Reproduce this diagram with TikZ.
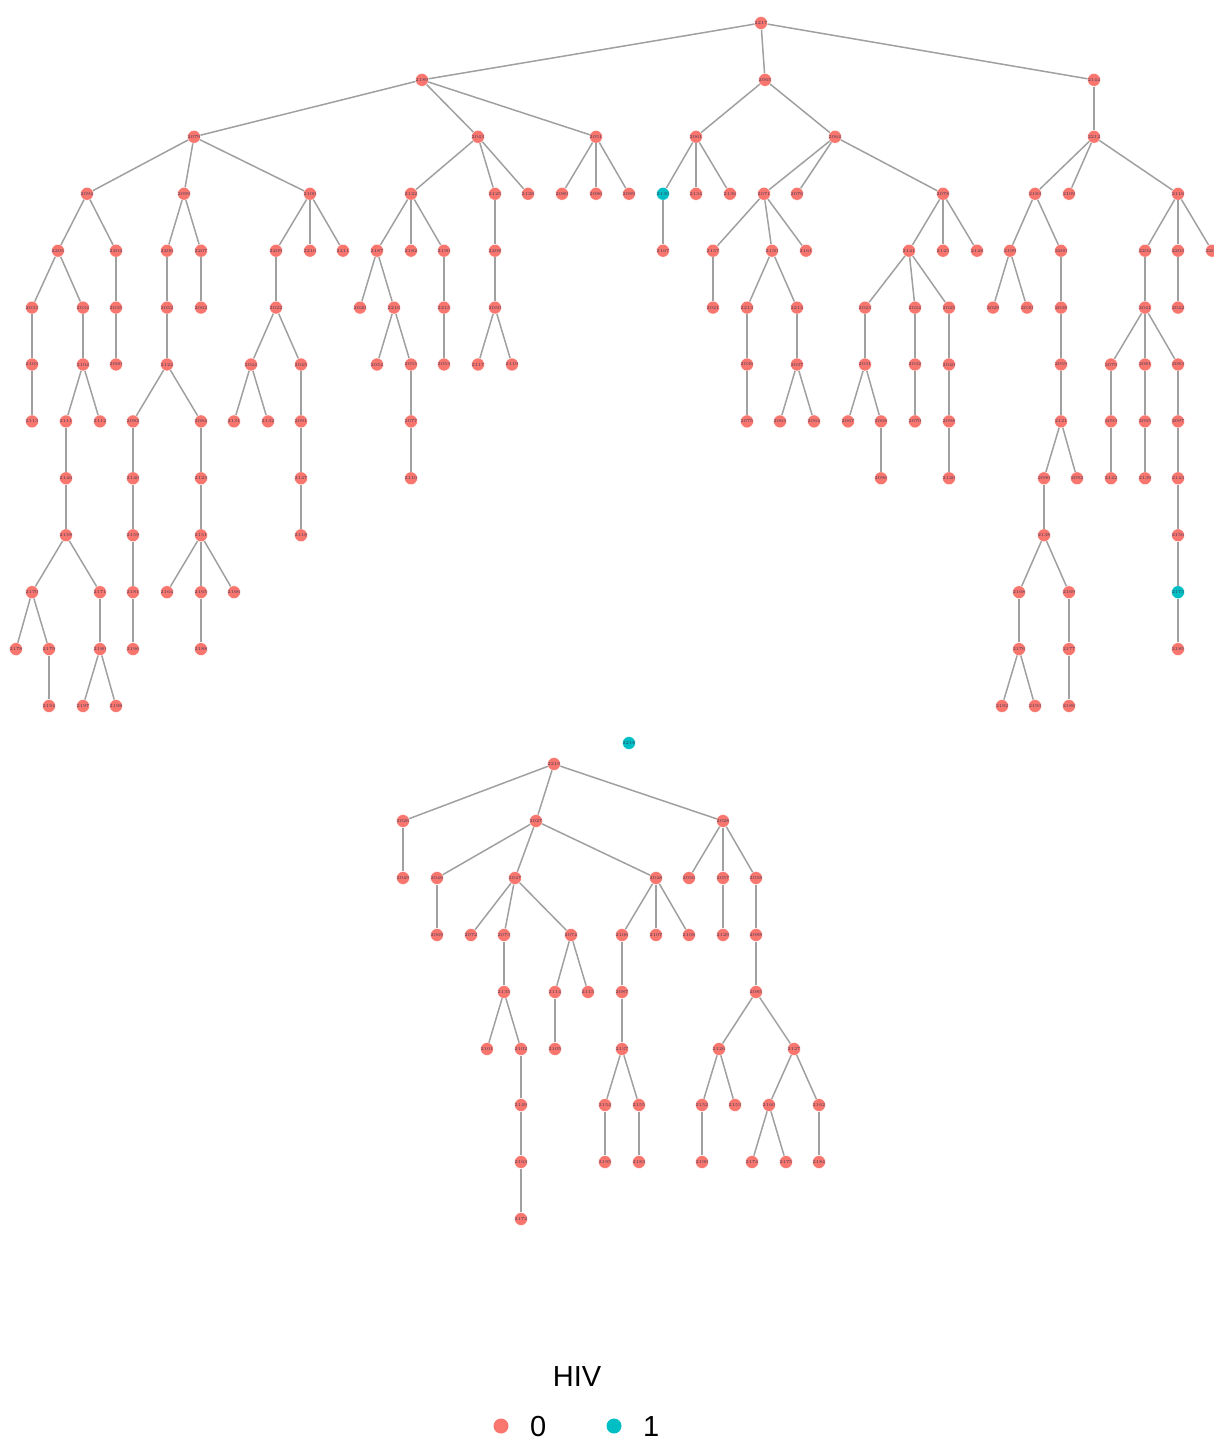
\documentclass[tikz,border=0pt]{standalone}
\usepackage{fontspec}
\newfontfamily\legfont{Liberation Sans}
\definecolor{hvred}{HTML}{F8766D}
\definecolor{hvteal}{HTML}{00BFC4}
\definecolor{edgegray}{HTML}{A0A0A0}
\definecolor{lblcol}{HTML}{3A3A5E}
\begin{document}
\begin{tikzpicture}[x=1pt,y=-1pt,
  hv/.style={circle,fill=hvred,draw=white,line width=0.4pt,minimum size=12.5pt,inner sep=0pt,
    font=\fontsize{4.6}{5}\selectfont,text=lblcol},
  hvt/.style={hv,fill=hvteal},
  edge/.style={draw=edgegray,line width=1.5pt},
  legtext/.style={font=\legfont\fontsize{29}{32}\selectfont,inner sep=0pt}]
\useasboundingbox (0,0) rectangle (1213,1439);
% ---- top tree ----
\def\La{23}\def\Lb{79.9}\def\Lc{136.8}\def\Ld{193.8}\def\Le{250.7}\def\Lf{307.6}\def\Lg{364.5}
\def\Lh{421.4}\def\Li{478.3}\def\Lj{535.3}\def\Lk{592.2}\def\Ll{649.1}\def\Lm{706}
\node[hv] (n2217) at (761,\La) {2217};
\foreach \n/\x in {2189/422,2065/765,2144/1094} \node[hv] (n\n) at (\x,\Lb) {\n};
\foreach \n/\x in {2079/194,2043/478,2051/596,2061/696,2064/835,2212/1094} \node[hv] (n\n) at (\x,\Lc) {\n};
\foreach \n/\x in {2094/87,2099/184,2100/310,2122/411,2125/495,2128/528,2080/562,2086/596,2089/629,2134/696,2136/730,2071/764,2076/797,2078/943,2183/1035,2109/1069,2116/1178} \node[hv] (n\n) at (\x,\Ld) {\n};
\node[hvt] (n2130) at (663,\Ld) {2130};
\foreach \n/\x in {2205/58,2204/116,2206/167,2207/201,2209/276,2210/310,2211/343,2187/377,2182/411,2190/444,2208/495,2167/663,2157/713,2150/772,2161/806,2141/909,2145/943,2148/977,2199/1010,2200/1061,2202/1145,2203/1178,2201/1212} \node[hv] (n\n) at (\x,\Le) {\n};
\foreach \n/\x in {2033/32,2034/83,2035/116,2052/167,2062/201,2022/276,2020/360,2216/394,2215/444,2050/495,2021/713,2213/747,2214/797,2023/865,2024/915,2025/949,2029/993,2030/1027,2038/1061,2041/1145,2042/1178} \node[hv] (n\n) at (\x,\Lf) {\n};
\foreach \n/\x in {2103/32,2104/83,2060/116,2124/167,2044/251,2045/301,2054/377,2055/411,2053/444,2117/478,2119/512,2036/747,2037/797,2031/865,2032/915,2040/949,2059/1061,2081/1145,2083/1178} \node[hv] (n\n) at (\x,\Lg) {\n};
\node[hv] (n2079b) at (1111,\Lg) {2079};
\foreach \n/\x in {2113/32,2111/66,2112/100,2082/133,2084/201,2131/234,2132/268,2091/301,2077/411,2075/747,2063/780,2067/848,2068/881,2070/915,2098/949,2121/1061,2093/1111,2095/1145,2097/1178} \node[hv] (n\n) at (\x,\Lh) {\n};
\node[hv] (n2064b) at (814,\Lh) {2064};
\foreach \n/\x in {2146/66,2140/133,2123/201,2147/301,2110/411,2096/881,2120/949,2090/1044,2092/1077,2142/1111,2139/1145,2143/1178} \node[hv] (n\n) at (\x,\Li) {\n};
\foreach \n/\x in {2158/66,2159/133,2151/201,2118/301,2138/1044,2156/1178} \node[hv] (n\n) at (\x,\Lj) {\n};
\foreach \n/\x in {2170/32,2171/100,2181/133,2164/167,2165/201,2166/234,2168/1019,2169/1069} \node[hv] (n\n) at (\x,\Lk) {\n};
\node[hvt] (n2173) at (1178,\Lk) {2173};
\foreach \n/\x in {2178/16,2179/49,2180/100,2196/133,2188/201,2176/1019,2177/1069,2185/1178} \node[hv] (n\n) at (\x,\Ll) {\n};
\foreach \n/\x in {2194/49,2197/83,2198/116,2192/1002,2193/1035,2186/1069} \node[hv] (n\n) at (\x,\Lm) {\n};
% ---- bottom tree ----
\node[hvt] (n2218) at (629,743) {2218};
\node[hv] (n2219) at (554,764) {2219};
\foreach \n/\x in {2026/403,2027/536,2028/723} \node[hv] (n\n) at (\x,821) {\n};
\foreach \n/\x in {2049/403,2046/437,2047/515,2048/656,2056/689,2057/723,2058/756} \node[hv] (n\n) at (\x,878) {\n};
\foreach \n/\x in {2069/437,2072/471,2073/504,2074/571,2106/622,2107/656,2108/689,2129/723,2088/756} \node[hv] (n\n) at (\x,935) {\n};
\foreach \n/\x in {2135/504,2114/555,2115/588,2087/622,2085/756} \node[hv] (n\n) at (\x,992) {\n};
\foreach \n/\x in {2101/487,2102/521,2105/555,2137/622,2126/719,2127/794} \node[hv] (n\n) at (\x,1049) {\n};
\foreach \n/\x in {2149/521,2154/605,2155/639,2152/702,2153/735,2160/769,2162/819} \node[hv] (n\n) at (\x,1105) {\n};
\foreach \n/\x in {2163/521,2195/605,2174/752,2175/786,2184/819} \node[hv] (n\n) at (\x,1162) {\n};
\node[hv] (n2183b) at (639,1162) {2183};
\node[hv] (n2190b) at (702,1162) {2190};
\node[hv] (n2172) at (521,1219) {2172};
% ---- edges ----
\foreach \a/\b in {2217/2189,2217/2065,2217/2144,
 2189/2079,2189/2043,2189/2051,
 2079/2094,2079/2099,2079/2100,
 2094/2205,2094/2204,2205/2033,2205/2034,2204/2035,
 2033/2103,2103/2113,2034/2104,2104/2111,2104/2112,
 2111/2146,2146/2158,2158/2170,2158/2171,2170/2178,2170/2179,2179/2194,
 2171/2180,2180/2197,2180/2198,2035/2060,
 2099/2206,2099/2207,2206/2052,2052/2124,2124/2082,2124/2084,
 2082/2140,2140/2159,2159/2181,2181/2196,
 2084/2123,2123/2151,2151/2164,2151/2165,2151/2166,2165/2188,2207/2062,
 2100/2209,2100/2210,2100/2211,2209/2022,2022/2044,2022/2045,2044/2131,2044/2132,
 2045/2091,2091/2147,2147/2118,
 2043/2122,2043/2125,2043/2128,2122/2187,2122/2182,2122/2190,
 2187/2020,2187/2216,2216/2054,2216/2055,2055/2077,2077/2110,2190/2215,2215/2053,
 2125/2208,2208/2050,2050/2117,2050/2119,
 2051/2080,2051/2086,2051/2089,
 2065/2061,2065/2064,2061/2130,2061/2134,2061/2136,2130/2167,
 2064/2071,2064/2076,2064/2078,2071/2157,2071/2150,2071/2161,2157/2021,
 2150/2213,2150/2214,2213/2036,2036/2075,2214/2037,2037/2063,2037/2064b,
 2078/2141,2078/2145,2078/2148,2141/2023,2141/2024,2141/2025,
 2023/2031,2031/2067,2031/2068,2068/2096,2024/2032,2032/2070,2025/2040,2040/2098,2098/2120,
 2144/2212,2212/2183,2212/2109,2212/2116,2183/2199,2183/2200,2199/2029,2199/2030,
 2200/2038,2038/2059,2059/2121,2121/2090,2121/2092,2090/2138,2138/2168,2138/2169,
 2168/2176,2176/2192,2176/2193,2169/2177,2177/2186,
 2116/2202,2116/2203,2116/2201,2202/2041,2041/2079b,2041/2081,2041/2083,
 2079b/2093,2093/2142,2081/2095,2095/2139,2083/2097,2097/2143,2143/2156,2156/2173,2173/2185,
 2203/2042,
 2219/2026,2219/2027,2219/2028,2026/2049,2027/2046,2027/2047,2027/2048,2046/2069,
 2047/2072,2047/2073,2047/2074,2073/2135,2135/2101,2135/2102,2102/2149,2149/2163,2163/2172,
 2074/2114,2074/2115,2114/2105,2048/2106,2048/2107,2048/2108,2106/2087,2087/2137,
 2137/2154,2137/2155,2154/2195,2155/2183b,
 2028/2056,2028/2057,2028/2058,2057/2129,2058/2088,2088/2085,2085/2126,2085/2127,
 2126/2152,2126/2153,2152/2190b,2127/2160,2127/2162,2160/2174,2160/2175,2162/2184}
 \draw[edge] (n\a) -- (n\b);
% ---- legend ----
\node[legtext,anchor=base] (legtitle) at (577,1386) {HIV};
\node[circle,fill=hvred,minimum size=15pt,inner sep=0pt] (leg0) at (501,1426) {};
\node[legtext,anchor=base west] (legt0) at (530,1436) {0};
\node[circle,fill=hvteal,minimum size=15pt,inner sep=0pt] (leg1) at (614,1426) {};
\node[legtext,anchor=base west] (legt1) at (643,1436) {1};
\end{tikzpicture}
\end{document}
